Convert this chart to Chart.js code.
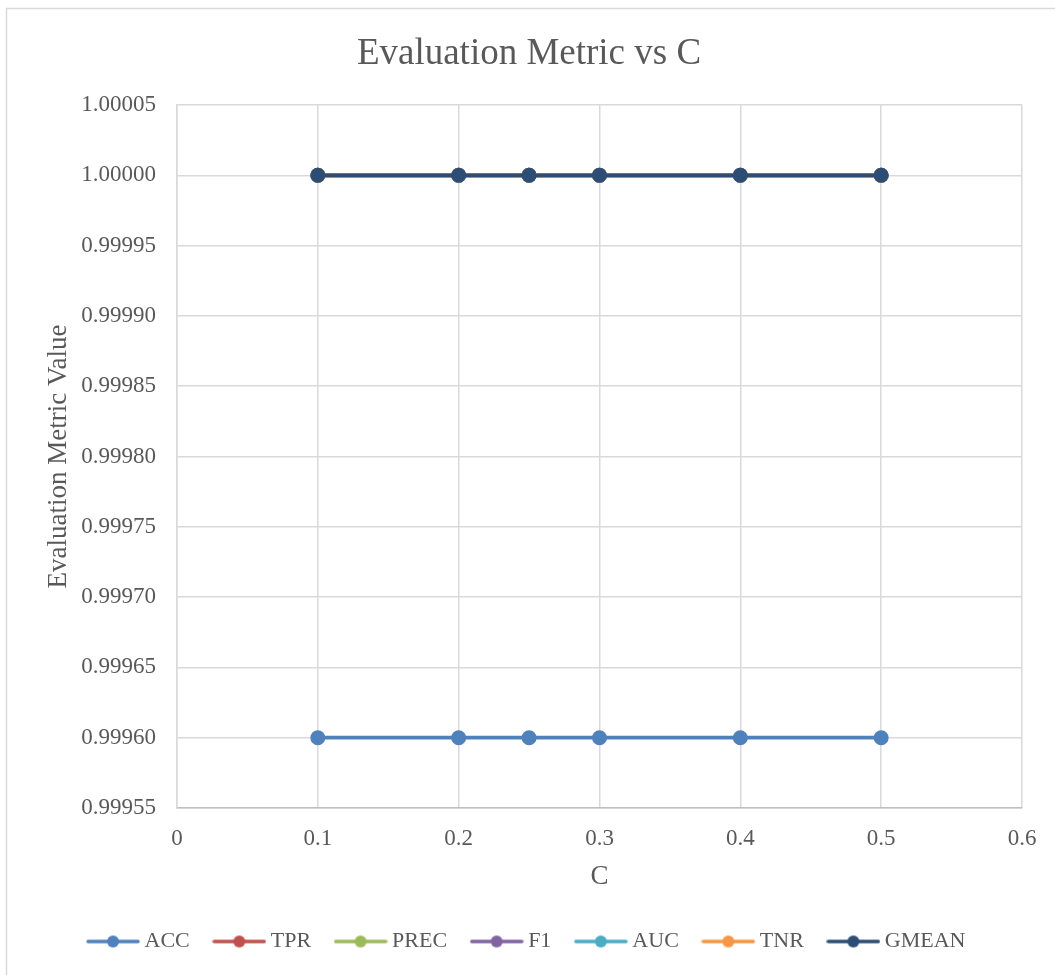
<!DOCTYPE html>
<html>
<head>
<meta charset="utf-8">
<title>Evaluation Metric vs C</title>
<script src="https://cdn.jsdelivr.net/npm/chart.js@4/dist/chart.umd.min.js"></script>
<style>
  html, body { margin: 0; padding: 0; background: #ffffff; }
  #wrap { position: relative; width: 1055px; height: 975px; }
</style>
</head>
<body>
<div id="wrap"><canvas id="chart"></canvas></div>
<script>
// Regularisation parameter C
const cValues = [0.1, 0.2, 0.25, 0.3, 0.4, 0.5];

// Metric values per C
const acc   = [0.9996, 0.9996, 0.9996, 0.9996, 0.9996, 0.9996];
const tpr   = [1, 1, 1, 1, 1, 1];
const prec  = [1, 1, 1, 1, 1, 1];
const f1    = [1, 1, 1, 1, 1, 1];
const auc   = [1, 1, 1, 1, 1, 1];
const tnr   = [1, 1, 1, 1, 1, 1];
const gmean = [1, 1, 1, 1, 1, 1];

const seriesNames = ['ACC', 'TPR', 'PREC', 'F1', 'AUC', 'TNR', 'GMEAN'];
const seriesValues = [acc, tpr, prec, f1, auc, tnr, gmean];
const seriesColors = ['#4F81BD', '#C0504D', '#9BBB59', '#8064A2', '#4BACC6', '#F79646', '#2C4D75'];

// Axis tick labels
const xTickLabels = ['0', '0.1', '0.2', '0.3', '0.4', '0.5', '0.6'];
const yTickLabels = ['0.99955', '0.99960', '0.99965', '0.99970', '0.99975', '0.99980',
                     '0.99985', '0.99990', '0.99995', '1.00000', '1.00005'];

const FONT = "'Times New Roman', 'Liberation Serif', serif";
const TEXT = '#595959';
const GRID = '#D9D9D9';

// Legend swatch: a short line with a round marker in the middle
function legendSwatch(color) {
  const c = document.createElement('canvas');
  c.width = 54; c.height = 16;
  const g = c.getContext('2d');
  g.strokeStyle = color;
  g.lineWidth = 3.5;
  g.lineCap = 'round';
  g.beginPath();
  g.moveTo(2, 8); g.lineTo(52, 8);
  g.stroke();
  g.fillStyle = color;
  g.beginPath();
  g.arc(27, 8, 6, 0, Math.PI * 2);
  g.fill();
  return c;
}
const swatches = seriesColors.map(legendSwatch);

const datasets = seriesNames.map((name, i) => ({
  label: name,
  data: cValues.map((c, j) => ({ x: c, y: seriesValues[i][j] })),
  borderColor: seriesColors[i],
  backgroundColor: seriesColors[i],
  pointBackgroundColor: seriesColors[i],
  pointBorderWidth: 0,
  pointRadius: 7.5,
  pointHoverRadius: 7.5,
  borderWidth: 3.8,
  tension: 0,
  // later series are painted on top
  order: seriesNames.length - 1 - i
}));

// White background and outer chart frame
const frame = {
  id: 'frame',
  beforeDraw(chart) {
    const ctx = chart.ctx;
    ctx.save();
    ctx.fillStyle = '#ffffff';
    ctx.fillRect(0, 0, chart.width, chart.height);
    ctx.strokeStyle = GRID;
    ctx.lineWidth = 1.5;
    ctx.strokeRect(6.5, 8.5, chart.width + 10, chart.height + 10);
    ctx.restore();
  }
};

new Chart(document.getElementById('chart'), {
  type: 'line',
  data: { datasets },
  plugins: [frame],
  options: {
    responsive: true,
    maintainAspectRatio: false,
    animation: false,
    devicePixelRatio: 1,
    layout: { padding: { left: 36, right: 33, top: 8, bottom: 12.5 } },
    plugins: {
      title: {
        display: true,
        text: 'Evaluation Metric vs C',
        color: TEXT,
        font: { family: FONT, size: 37, weight: 'normal', lineHeight: 1.2 },
        padding: { top: 24, bottom: 28.6 }
      },
      legend: {
        position: 'bottom',
        labels: {
          color: TEXT,
          font: { family: FONT, size: 22 },
          usePointStyle: true,
          pointStyleWidth: 41,
          padding: 29,
          sort: (a, b) => a.datasetIndex - b.datasetIndex,
          generateLabels(chart) {
            const items = Chart.defaults.plugins.legend.labels.generateLabels(chart);
            items.forEach(it => { it.pointStyle = swatches[it.datasetIndex]; });
            return items;
          }
        }
      },
      tooltip: { enabled: false }
    },
    scales: {
      x: {
        type: 'linear',
        min: 0,
        max: 0.6,
        ticks: {
          stepSize: 0.1,
          color: TEXT,
          font: { family: FONT, size: 23 },
          padding: 17.5,
          callback: (v, i) => xTickLabels[i]
        },
        grid: { color: GRID, lineWidth: 1.5, drawTicks: false },
        border: { color: '#BFBFBF', width: 1.5 },
        title: {
          display: true,
          text: 'C',
          color: TEXT,
          font: { family: FONT, size: 27, weight: 'normal', lineHeight: 1.2 },
          padding: { top: 0, bottom: 8 }
        },
        afterFit(scale) { scale.height = 93.5; }
      },
      y: {
        min: 0.99955,
        max: 1.00005,
        ticks: {
          stepSize: 0.00005,
          color: TEXT,
          font: { family: FONT, size: 23 },
          padding: 21,
          callback: (v, i) => yTickLabels[i]
        },
        grid: { color: GRID, lineWidth: 1.5, drawTicks: false },
        border: { color: GRID, width: 1.5 },
        title: {
          display: true,
          text: 'Evaluation Metric Value',
          color: TEXT,
          font: { family: FONT, size: 27, weight: 'normal', lineHeight: 1.2 },
          padding: { top: 6.5, bottom: 0 }
        },
        afterFit(scale) { scale.width = 141; }
      }
    }
  }
});
</script>
</body>
</html>
